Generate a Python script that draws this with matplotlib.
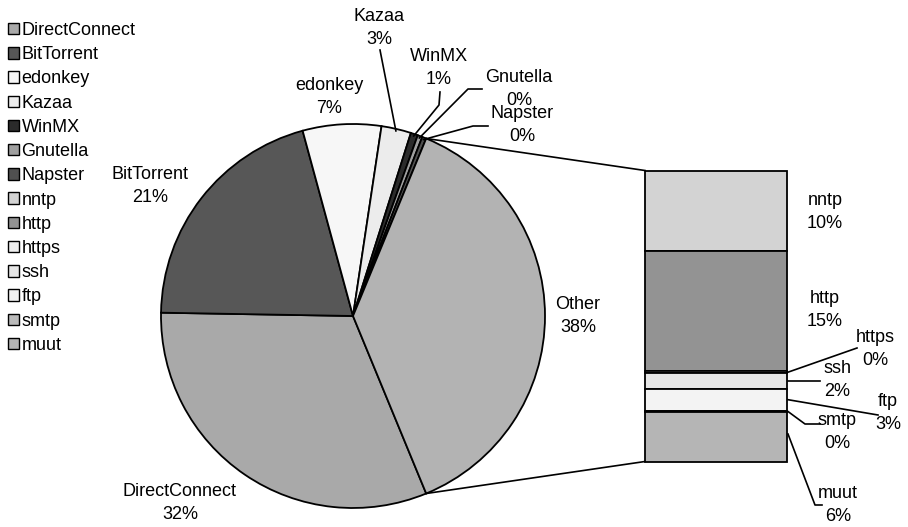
import matplotlib
matplotlib.use("Agg")
import matplotlib.pyplot as plt
from matplotlib.patches import Patch
import numpy as np

plt.rcParams['font.family'] = ['Liberation Sans', 'DejaVu Sans']

# ---------------- data ----------------
pie_names = ["DirectConnect", "BitTorrent", "edonkey", "Kazaa", "WinMX", "Gnutella", "Napster"]
pie_values = [31.5, 20.5, 6.6, 2.5, 0.6, 0.4, 0.35]
pie_colors = ["#a9a9a9", "#575757", "#f7f7f7", "#ececec", "#2b2b2b", "#a0a0a0", "#505050"]

other_name = "Other"
other_color = "#b3b3b3"

bar_names = ["nntp", "http", "https", "ssh", "ftp", "smtp", "muut"]
bar_values = [10.45, 15.45, 0.25, 2.0, 2.85, 0.1, 6.45]
bar_colors = ["#d3d3d3", "#939393", "#eeeeee", "#e6e6e6", "#f3f3f3", "#bbbbbb", "#b5b5b5"]

other_value = sum(bar_values)


def pct(v):
    return f"{int(v + 0.5)}%"


W, H = 908, 527
FS = 13
LS = 1.45
fig = plt.figure(figsize=(W / 100, H / 100), dpi=100)
ax = fig.add_axes([0, 0, 1, 1])


def Y(y):
    return H - y


# ---------------- pie ----------------
cx, cy, R = 353, Y(316), 192
vals = pie_values + [other_value]
cols = pie_colors + [other_color]
startangle = -other_value / sum(vals) * 360 / 2
wedges, _ = ax.pie(vals, colors=cols, startangle=startangle, counterclock=False,
                   center=(cx, cy), radius=R, frame=True,
                   wedgeprops=dict(edgecolor="black", linewidth=1.3))
ax.set_xlim(0, W)
ax.set_ylim(0, H)
ax.set_aspect('equal')
ax.axis('off')


def arc_pt(angle_deg, r=R):
    a = np.deg2rad(angle_deg)
    return cx + r * np.cos(a), cy + r * np.sin(a)


def mid_angle(w):
    return (w.theta1 + w.theta2) / 2


big_label_pos = {
    "DirectConnect": (180, 503),
    "BitTorrent": (150, 186),
    "edonkey": (329, 97),
    other_name: (578, 316),
}
small_label_pos = {
    "Kazaa": (379, 28),
    "WinMX": (439, 68),
    "Gnutella": (519, 89),
    "Napster": (522, 125),
}
small_leader = {
    "Kazaa": [(380, 50)],
    "WinMX": [(439, 105), (440, 92)],
    "Gnutella": [(468, 89), (482, 89)],
    "Napster": [(473, 126), (488, 126)],
}

all_names = pie_names + [other_name]
for name, v, w in zip(all_names, vals, wedges):
    txt = f"{name}\n{pct(v)}"
    if name in big_label_pos:
        x, y = big_label_pos[name]
        ax.text(x, Y(y), txt, ha="center", va="center", fontsize=FS, linespacing=LS)
    else:
        x, y = small_label_pos[name]
        ax.text(x, Y(y), txt, ha="center", va="center", fontsize=FS, linespacing=LS)
        p0 = arc_pt(mid_angle(w), R - 2)
        pts = [p0] + [(px, Y(py)) for px, py in small_leader[name]]
        ax.plot([p[0] for p in pts], [p[1] for p in pts], color="black", lw=1.2)

# ---------------- bar of "Other" ----------------
bx0, bx1, by_top, by_bot = 645, 787, 170.5, 461.5
ax2 = fig.add_axes([bx0 / W, Y(by_bot) / H, (bx1 - bx0) / W, (by_bot - by_top) / H])
ax2.set_xlim(0, 1)
ax2.set_ylim(0, other_value)
ax2.axis('off')
bottom = other_value
seg_edges = {}
for name, v, c in zip(bar_names, bar_values, bar_colors):
    bottom -= v
    ax2.bar(0.5, v, width=1.0, bottom=bottom, color=c, edgecolor="black",
            linewidth=1.3, clip_on=False)
    seg_edges[name] = (bottom, bottom + v)


def bar_y_px(val):
    disp = ax2.transData.transform((1.0, val))
    return ax.transData.inverted().transform(disp)[1]


# connectors between pie and bar
w_other = wedges[-1]
pt_top = arc_pt(w_other.theta2)
pt_bot = arc_pt(w_other.theta1)
ax.plot([pt_top[0], bx0], [pt_top[1], Y(by_top)], color="black", lw=1.2)
ax.plot([pt_bot[0], bx0], [pt_bot[1], Y(by_bot)], color="black", lw=1.2)

bar_label_pos = {
    "nntp": (825, 212),
    "http": (825, 310),
    "https": (875, 349),
    "ssh": (837, 380),
    "ftp": (888, 413),
    "smtp": (837, 432),
    "muut": (838, 505),
}
bar_leader = {
    "https": [(857, 348)],
    "ssh": [(820, None)],
    "ftp": [(878, 415)],
    "smtp": [(805, 424), (820, 424)],
    "muut": [(815, 505), (822, 505)],
}
bar_anchor_frac = {"https": 0.5, "ssh": 0.5, "ftp": 0.5, "smtp": 0.0, "muut": 0.55}

for name, v in zip(bar_names, bar_values):
    x, y = bar_label_pos[name]
    ax.text(x, Y(y), f"{name}\n{pct(v)}", ha="center", va="center", fontsize=FS, linespacing=LS)
    if name in bar_leader:
        lo, hi = seg_edges[name]
        ay = bar_y_px(lo + (hi - lo) * bar_anchor_frac[name])
        pts = [(bx1 + 1, ay)]
        for px, py in bar_leader[name]:
            pts.append((px, ay if py is None else Y(py)))
        ax.plot([p[0] for p in pts], [p[1] for p in pts], color="black", lw=1.2)

# ---------------- legend ----------------
leg_names = pie_names + bar_names
leg_colors = pie_colors + bar_colors
handles = [Patch(facecolor=c, edgecolor="black", linewidth=1.0) for c in leg_colors]
ax.legend(handles, leg_names, loc="upper left", bbox_to_anchor=(8 / W, 1 - 22 / H),
          bbox_transform=fig.transFigure, frameon=False, fontsize=FS,
          handlelength=0.6, handleheight=0.6, handletextpad=0.15,
          labelspacing=0.40, borderpad=0, borderaxespad=0)

fig.savefig("out.png", dpi=100)
